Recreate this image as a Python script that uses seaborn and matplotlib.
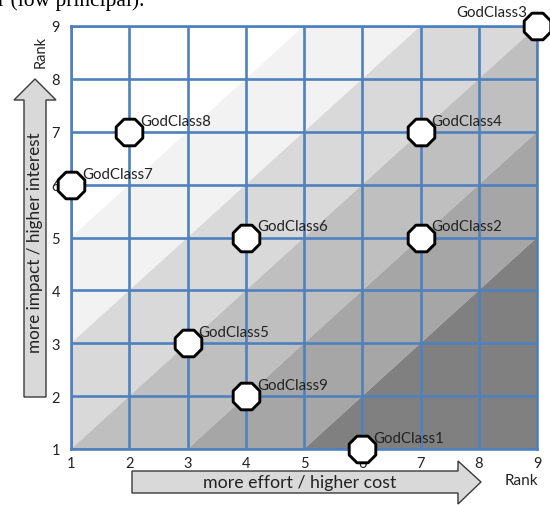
import matplotlib
matplotlib.use("Agg")
import matplotlib.pyplot as plt
from matplotlib.patches import Polygon
import seaborn as sns
import pandas as pd
import numpy as np

# data
classes = ["GodClass1", "GodClass2", "GodClass3", "GodClass4", "GodClass5",
           "GodClass6", "GodClass7", "GodClass8", "GodClass9"]
effort_rank = [6, 7, 9, 7, 3, 4, 1, 2, 4]
impact_rank = [1, 5, 9, 7, 3, 5, 6, 7, 2]
ticks = [1, 2, 3, 4, 5, 6, 7, 8, 9]

# diagonal bands: y - x between lower and upper offset
band_lower = [4, 2, 0, -2, -4, -20]
band_upper = [20, 4, 2, 0, -2, -4]
band_colors = ["#ffffff", "#f2f2f2", "#d9d9d9", "#bfbfbf", "#a6a6a6", "#808080"]

df = pd.DataFrame({"name": classes, "effort": effort_rank, "impact": impact_rank})

sns.set_theme(style="white")
plt.rcParams["font.family"] = ["Lato", "DejaVu Sans"]

W, H = 550, 506
fig = plt.figure(figsize=(W / 100, H / 100), dpi=100)
ax = fig.add_axes([71 / W, 1 - 450 / H, (537 - 71) / W, (450 - 27) / H])

xs = np.array([0.0, 10.0])
for lo, hi, c in zip(band_lower, band_upper, band_colors):
    ax.fill_between(xs, xs + lo, xs + hi, color=c, lw=0, zorder=0)

blue = "#4f81bd"
for t in ticks:
    ax.axvline(t, color=blue, lw=1.9, zorder=1)
    ax.axhline(t, color=blue, lw=1.9, zorder=1)

sns.scatterplot(data=df, x="effort", y="impact", ax=ax, marker="8", s=430,
                color="white", edgecolor="black", linewidth=2.1, zorder=5,
                clip_on=False, legend=False)

txt = "#222222"
for _, r in df.iterrows():
    if r["name"] == "GodClass3":
        ax.annotate(r["name"], (r["effort"], r["impact"]), xytext=(-7, 10),
                    textcoords="offset points", ha="right", va="center",
                    fontsize=10.8, color=txt, zorder=6, annotation_clip=False)
    else:
        ax.annotate(r["name"], (r["effort"], r["impact"]), xytext=(8, 8),
                    textcoords="offset points", ha="left", va="center",
                    fontsize=10.8, color=txt, zorder=6, annotation_clip=False)

ax.set_xlim(1, 9)
ax.set_ylim(1, 9)
ax.set_xticks(ticks)
ax.set_yticks(ticks)
ax.set_xticklabels([str(t) for t in ticks])
ax.set_yticklabels([str(t) for t in ticks])
ax.tick_params(axis="both", length=0, labelsize=10.5, labelcolor=txt)
ax.tick_params(axis="x", pad=5)
ax.tick_params(axis="y", pad=8)
ax.set_xlabel("")
ax.set_ylabel("")
for s in ax.spines.values():
    s.set_color(blue)
    s.set_linewidth(1.9)
    s.set_zorder(2)


def px(pts):
    return [(x / W, 1 - y / H) for x, y in pts]


up_arrow = px([(24, 398), (24, 101), (14, 101), (35, 80), (56, 101),
               (46, 101), (46, 398)])
right_arrow = px([(132, 472), (458, 472), (458, 462), (481, 483), (458, 505),
                  (458, 494), (132, 494)])
for shape in (up_arrow, right_arrow):
    fig.patches.append(Polygon(shape, closed=True, transform=fig.transFigure,
                               facecolor="#d9d9d9", edgecolor="#3a3a3a", lw=1.0))

fig.text(35 / W, 1 - 243 / H, "more impact / higher interest", rotation=90,
         ha="center", va="center", fontsize=12.3, color=txt)
fig.text(300 / W, 1 - 483 / H, "more effort / higher cost",
         ha="center", va="center", fontsize=12.8, color=txt)
fig.text(41 / W, 1 - 52 / H, "Rank", rotation=90, ha="center", va="center",
         fontsize=10.5, color=txt)
fig.text(521 / W, 1 - 481 / H, "Rank", ha="center", va="center",
         fontsize=11, color=txt)
fig.text(-2 / W, 1 - 6 / H, "r (low principal).", ha="left", va="baseline",
         fontsize=15.5, family=["Liberation Serif", "DejaVu Serif"], color="black")

fig.savefig("out.png", dpi=100)
